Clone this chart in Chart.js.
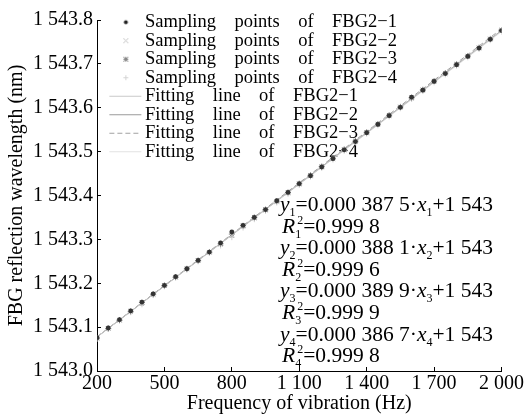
<!DOCTYPE html>
<html>
<head>
<meta charset="utf-8">
<script src="https://cdn.jsdelivr.net/npm/chart.js@4.4.1/dist/chart.umd.min.js"></script>
<style>
  html, body { margin: 0; padding: 0; background: #fff; }
  #wrap { width: 529px; height: 415px; }
</style>
</head>
<body>
<div id="wrap"><canvas id="fbg-chart"></canvas></div>
<script>
// sampling frequencies (Hz)
const freqs = [200, 250, 300, 350, 400, 450, 500, 550, 600, 650, 700, 750, 800, 850, 900, 950,
  1000, 1050, 1100, 1150, 1200, 1250, 1300, 1350, 1400, 1450, 1500, 1550, 1600, 1650, 1700,
  1750, 1800, 1850, 1900, 1950, 2000];

// reflection wavelength readings (nm)
const fbg1 = [1543.076, 1543.098, 1543.117, 1543.137, 1543.157, 1543.176, 1543.195, 1543.215,
  1543.233, 1543.252, 1543.271, 1543.292, 1543.317, 1543.332, 1543.350, 1543.368, 1543.388,
  1543.407, 1543.427, 1543.445, 1543.465, 1543.484, 1543.504, 1543.523, 1543.543, 1543.562,
  1543.582, 1543.601, 1543.624, 1543.640, 1543.660, 1543.678, 1543.698, 1543.717, 1543.736,
  1543.756, 1543.776];
const fbg2 = [1543.074, 1543.097, 1543.115, 1543.135, 1543.153, 1543.174, 1543.194, 1543.213,
  1543.232, 1543.251, 1543.270, 1543.288, 1543.308, 1543.329, 1543.348, 1543.366, 1543.385,
  1543.405, 1543.425, 1543.444, 1543.464, 1543.483, 1543.503, 1543.522, 1543.542, 1543.561,
  1543.581, 1543.600, 1543.621, 1543.639, 1543.659, 1543.677, 1543.697, 1543.716, 1543.735,
  1543.755, 1543.775];
const fbg3 = [1543.075, 1543.097, 1543.116, 1543.136, 1543.156, 1543.175, 1543.195, 1543.214,
  1543.233, 1543.252, 1543.271, 1543.290, 1543.312, 1543.331, 1543.350, 1543.368, 1543.387,
  1543.407, 1543.427, 1543.446, 1543.466, 1543.485, 1543.505, 1543.524, 1543.544, 1543.563,
  1543.583, 1543.602, 1543.623, 1543.641, 1543.661, 1543.679, 1543.699, 1543.718, 1543.737,
  1543.757, 1543.777];
const fbg4 = [1543.073, 1543.096, 1543.115, 1543.134, 1543.152, 1543.173, 1543.193, 1543.213,
  1543.231, 1543.250, 1543.269, 1543.286, 1543.305, 1543.327, 1543.346, 1543.365, 1543.384,
  1543.404, 1543.424, 1543.443, 1543.463, 1543.482, 1543.502, 1543.521, 1543.541, 1543.560,
  1543.580, 1543.599, 1543.620, 1543.638, 1543.658, 1543.676, 1543.696, 1543.715, 1543.734,
  1543.754, 1543.773];

// fitted lines, end points at 200 Hz and 2000 Hz
const fitX = [200, 2000];
const fit1 = [1543.0775, 1543.7750];
const fit2 = [1543.0776, 1543.7762];
const fit3 = [1543.0780, 1543.7798];
const fit4 = [1543.0773, 1543.7734];

const sensorNames = ['FBG2\u22121', 'FBG2\u22122', 'FBG2\u22123', 'FBG2\u22124'];
const slopes = ['0.000 387 5', '0.000 388 1', '0.000 389 9', '0.000 386 7'];
const rSquared = ['0.999 8', '0.999 6', '0.999 9', '0.999 8'];

const xTickLabels = ['200', '500', '800', '1 100', '1 400', '1 700', '2 000'];
const yTickLabels = ['1 543.0', '1 543.1', '1 543.2', '1 543.3', '1 543.4', '1 543.5', '1 543.6', '1 543.7', '1 543.8'];

const serif = '"Liberation Serif", "Times New Roman", serif';
const gap = '    ';

function toPoints(ys) {
  return ys.map((y, i) => ({ x: freqs[i], y: y }));
}
function toLine(ys) {
  return ys.map((y, i) => ({ x: fitX[i], y: y }));
}

// small images used as legend symbols
function legendIcon(kind, color, dash) {
  const c = document.createElement('canvas');
  c.width = 54;
  c.height = 9;
  const g = c.getContext('2d');
  g.strokeStyle = color;
  g.fillStyle = color;
  g.lineWidth = 1;
  const cx = 36.5, cy = 4.5, r = 2.5;
  g.beginPath();
  if (kind === 'line') {
    g.setLineDash(dash || []);
    g.moveTo(20, cy);
    g.lineTo(52, cy);
    g.stroke();
  } else if (kind === 'circle') {
    g.arc(cx, cy, 2, 0, Math.PI * 2);
    g.fill();
  } else {
    if (kind === 'crossRot' || kind === 'star') {
      g.moveTo(cx - r, cy - r); g.lineTo(cx + r, cy + r);
      g.moveTo(cx - r, cy + r); g.lineTo(cx + r, cy - r);
    }
    if (kind === 'cross' || kind === 'star') {
      g.moveTo(cx - r, cy); g.lineTo(cx + r, cy);
      g.moveTo(cx, cy - r); g.lineTo(cx, cy + r);
    }
    g.stroke();
  }
  return c;
}

const icons = [
  legendIcon('circle', '#222'),
  legendIcon('crossRot', '#c4c4c4'),
  legendIcon('star', '#888'),
  legendIcon('cross', '#d4d4d4'),
  legendIcon('line', '#c8c8c8'),
  legendIcon('line', '#9a9a9a'),
  legendIcon('line', '#a0a0a0', [5, 3]),
  legendIcon('line', '#e2e2e2')
];

// text with italic letters, subscripts and superscripts
function drawRich(ctx, parts, x, y) {
  const big = 21.5, small = 12;
  parts.forEach(p => {
    if (p.t) {
      ctx.font = (p.i ? 'italic ' : '') + big + 'px ' + serif;
      ctx.fillText(p.t, x, y);
      x += ctx.measureText(p.t).width;
    } else {
      ctx.font = small + 'px ' + serif;
      let w = 0;
      if (p.sub) {
        ctx.fillText(p.sub, x, y + 5);
        w = ctx.measureText(p.sub).width;
      }
      if (p.sup) {
        ctx.fillText(p.sup, x + 2, y - 9);
        w = Math.max(w, ctx.measureText(p.sup).width + 2);
      }
      x += w;
    }
  });
}

const equationPlugin = {
  id: 'fitEquations',
  afterDraw(chart) {
    const { ctx, chartArea } = chart;
    const x0 = chartArea.left + 183;
    const step = 21.6;
    ctx.save();
    ctx.fillStyle = '#000';
    ctx.textBaseline = 'alphabetic';
    ctx.textAlign = 'left';
    slopes.forEach((k, i) => {
      const n = String(i + 1);
      const yA = chartArea.top + 191 + 2 * i * step;
      drawRich(ctx, [
        { t: 'y', i: true }, { sub: n }, { t: '=' + k + '\u00b7' },
        { t: 'x', i: true }, { sub: n }, { t: '+1 543' }
      ], x0, yA);
      drawRich(ctx, [
        { t: 'R', i: true }, { sub: n, sup: '2' }, { t: '=' + rSquared[i] }
      ], x0 + 2, yA + step);
    });
    ctx.restore();
  }
};

const ctx = document.getElementById('fbg-chart').getContext('2d');

new Chart(ctx, {
  type: 'scatter',
  data: {
    datasets: [
      { label: 'Sampling' + gap + 'points' + gap + 'of' + gap + sensorNames[0], data: toPoints(fbg1),
        pointStyle: 'circle', radius: 2.4, backgroundColor: '#333', borderColor: '#333', borderWidth: 0 },
      { label: 'Sampling' + gap + 'points' + gap + 'of' + gap + sensorNames[1], data: toPoints(fbg2),
        pointStyle: 'crossRot', radius: 3, borderColor: '#bdbdbd', borderWidth: 1 },
      { label: 'Sampling' + gap + 'points' + gap + 'of' + gap + sensorNames[2], data: toPoints(fbg3),
        pointStyle: 'star', radius: 3, borderColor: '#808080', borderWidth: 1 },
      { label: 'Sampling' + gap + 'points' + gap + 'of' + gap + sensorNames[3], data: toPoints(fbg4),
        pointStyle: 'cross', radius: 3, borderColor: '#cfcfcf', borderWidth: 1 },
      { label: 'Fitting' + gap + 'line' + gap + 'of' + gap + sensorNames[0], data: toLine(fit1),
        showLine: true, pointRadius: 0, borderColor: '#c8c8c8', borderWidth: 1 },
      { label: 'Fitting' + gap + 'line' + gap + 'of' + gap + sensorNames[1], data: toLine(fit2),
        showLine: true, pointRadius: 0, borderColor: '#9a9a9a', borderWidth: 1 },
      { label: 'Fitting' + gap + 'line' + gap + 'of' + gap + sensorNames[2], data: toLine(fit3),
        showLine: true, pointRadius: 0, borderColor: '#a0a0a0', borderWidth: 1, borderDash: [5, 3] },
      { label: 'Fitting' + gap + 'line' + gap + 'of' + gap + sensorNames[3], data: toLine(fit4),
        showLine: true, pointRadius: 0, borderColor: '#e2e2e2', borderWidth: 1 }
    ]
  },
  options: {
    responsive: true,
    maintainAspectRatio: false,
    animation: false,
    layout: { padding: { top: 15, right: 26, left: 0, bottom: 0 } },
    plugins: {
      tooltip: { enabled: false },
      legend: {
        position: 'chartArea',
        align: 'start',
        title: {
          display: true,
          text: '',
          font: { size: 1, lineHeight: 1 },
          padding: { top: 12, bottom: 0 }
        },
        labels: {
          usePointStyle: true,
          pointStyleWidth: 38.75,
          padding: 0,
          color: '#000',
          font: { family: serif, size: 18.5, lineHeight: 1 },
          generateLabels(chart) {
            const items = Chart.defaults.plugins.legend.labels.generateLabels(chart);
            items.forEach((it, i) => { it.pointStyle = icons[i]; });
            return items;
          }
        }
      }
    },
    scales: {
      x: {
        type: 'linear',
        min: 200,
        max: 2000,
        afterFit(scale) { scale.height = 44; },
        border: { color: '#000', width: 1 },
        grid: { drawOnChartArea: false, color: '#000', tickLength: -4 },
        ticks: {
          stepSize: 300,
          padding: 5,
          color: '#000',
          font: { family: serif, size: 20 },
          maxRotation: 0,
          callback: (v, i) => xTickLabels[i]
        },
        title: {
          display: true,
          text: 'Frequency of vibration (Hz)',
          color: '#000',
          padding: 0,
          font: { family: serif, size: 20, lineHeight: 1.1 }
        }
      },
      y: {
        min: 1543.0,
        max: 1543.8,
        afterFit(scale) { scale.width = 97; },
        border: { color: '#000', width: 1 },
        grid: { drawOnChartArea: false, color: '#000', tickLength: -4 },
        ticks: {
          stepSize: 0.1,
          padding: 8,
          color: '#000',
          font: { family: serif, size: 20 },
          callback: (v, i) => yTickLabels[i]
        },
        title: {
          display: true,
          text: 'FBG reflection wavelength (nm)',
          color: '#000',
          padding: { top: 5, bottom: 0 },
          font: { family: serif, size: 20, lineHeight: 1.2 }
        }
      }
    }
  },
  plugins: [equationPlugin]
});
</script>
</body>
</html>
